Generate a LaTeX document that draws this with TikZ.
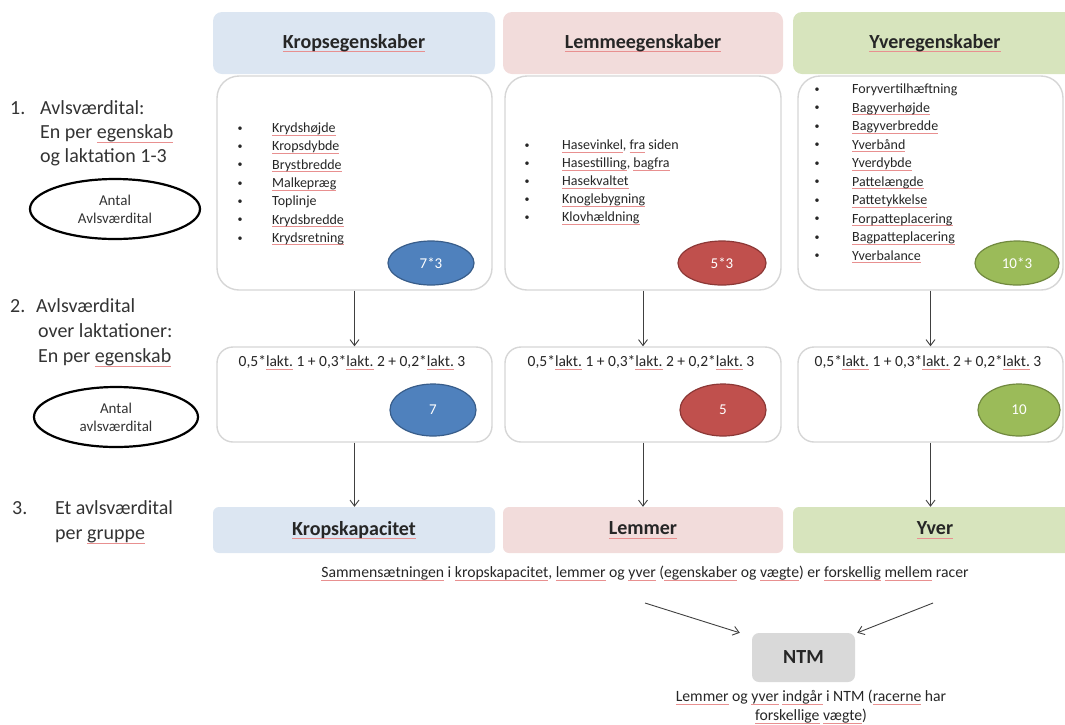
\documentclass[tikz,border=0pt]{standalone}
\usepackage{fontspec}
\setmainfont{Carlito}
\usetikzlibrary{arrows.meta,shapes.geometric}
\definecolor{hblue}{HTML}{DCE6F2}
\definecolor{hred}{HTML}{F2DCDB}
\definecolor{hgreen}{HTML}{D7E4BD}
\definecolor{eblue}{HTML}{4F81BD}
\definecolor{eblueb}{HTML}{385D8A}
\definecolor{ered}{HTML}{C0504D}
\definecolor{eredb}{HTML}{8C3836}
\definecolor{egreen}{HTML}{9BBB59}
\definecolor{egreenb}{HTML}{71893F}
\definecolor{txt}{HTML}{262626}
\definecolor{bord}{HTML}{D6D6D6}
\definecolor{ntmgray}{HTML}{D9D9D9}
\definecolor{squig}{HTML}{E89090}
\newsavebox\sqbox
\newcommand\sq[1]{\sbox\sqbox{#1}\rlap{\color{squig}\rule[-0.2em]{\wd\sqbox}{0.7pt}}\usebox\sqbox}
\begin{document}
\begin{tikzpicture}[x=1pt,y=-1pt,
  head/.style={fill=#1, rounded corners=9pt, inner sep=0pt, minimum height=62pt, text=txt, font=\fontsize{20}{24}\selectfont\bfseries},
  grp/.style={fill=#1, rounded corners=6pt, inner sep=0pt, minimum height=46pt, text=txt, font=\fontsize{20}{24}\selectfont\bfseries},
  panel/.style={draw=bord, line width=1.4pt, fill=white, rounded corners=22pt, inner sep=0pt},
  panelb/.style={draw=bord, line width=1.4pt, fill=white, rounded corners=16pt, inner sep=0pt},
  oval/.style={ellipse, line width=1.2pt, text=white, inner sep=0pt, font=\fontsize{15}{18}\selectfont},
  item/.style={anchor=west, inner sep=0pt, text height=10pt, text depth=3pt, text=txt, font=\fontsize{14}{17}\selectfont},
  bul/.style={inner sep=0pt, text=txt, font=\fontsize{10}{12}\selectfont},
  formula/.style={inner sep=0pt, text=txt, font=\fontsize{15.5}{18}\selectfont},
  lab/.style={anchor=west, inner sep=0pt, text height=13pt, text depth=4pt, text=black!80, font=\fontsize{20}{24}\selectfont},
  antal/.style={ellipse, draw=black, line width=2.2pt, align=center, inner sep=0pt, text=black!80, font=\fontsize{15}{18}\selectfont},
  arr/.style={-{Straight Barb[length=6pt,width=9pt]}, line width=0.9pt, draw=black!75},
  captxt/.style={inner sep=0pt, text=txt, font=\fontsize{15.7}{19}\selectfont, align=center}]
\useasboundingbox (0,0) rectangle (1065,724);

% header boxes
\node[head=hblue, minimum width=282pt] (hA) at (354,43) {\sq{Kropsegenskaber}};
\node[head=hred, minimum width=280pt] (hB) at (643,43) {\sq{Lemmeegenskaber}};
\node[head=hgreen, minimum width=284pt] (hC) at (935,43) {\sq{Yveregenskaber}};

% row 1 panels
\node[panel, minimum width=275pt, minimum height=214pt] (pA) at (354.5,183) {};
\node[panel, minimum width=276pt, minimum height=214pt] (pB) at (643,183) {};
\node[panel, minimum width=265pt, minimum height=214pt] (pC) at (930.5,183) {};

% lists
\foreach \t [count=\i from 0] in {\sq{Krydshøjde},\sq{Kropsdybde},\sq{Brystbredde},\sq{Malkepræg},Toplinje,\sq{Krydsbredde},\sq{Krydsretning}}{
  \node[bul] (bA\i) at (240,{129+18.3*\i}) {\textbullet};
  \node[item] (tA\i) at (272,{129+18.3*\i}) {\t};
}
\foreach \t [count=\i from 0] in {{\sq{Hasevinkel},\ \sq{fra} siden},{\sq{Hasestilling},\ \sq{bagfra}},\sq{Hasekvaltet},\sq{Knoglebygning},\sq{Klovhældning}}{
  \node[bul] (bB\i) at (527,{146+18*\i}) {\textbullet};
  \node[item] (tB\i) at (562,{146+18*\i}) {\t};
}
\foreach \t [count=\i from 0] in {Foryvertilhæftning,\sq{Bagyverhøjde},\sq{Bagyverbredde},\sq{Yverbånd},\sq{Yverdybde},\sq{Pattelængde},\sq{Pattetykkelse},\sq{Forpatteplacering},\sq{Bagpatteplacering},\sq{Yverbalance}}{
  \node[bul] (bC\i) at (817,{90+18.5*\i}) {\textbullet};
  \node[item] (tC\i) at (852,{90+18.5*\i}) {\t};
}

% row 1 ovals
\node[oval, fill=eblue, draw=eblueb, minimum width=86pt, minimum height=44pt] (oA) at (431,263) {7*3};
\node[oval, fill=ered, draw=eredb, minimum width=88pt, minimum height=44pt] (oB) at (722,263) {5*3};
\node[oval, fill=egreen, draw=egreenb, minimum width=84pt, minimum height=44pt] (oC) at (1017,263) {10*3};

% row 2 panels
\node[panelb, minimum width=275pt, minimum height=95pt] (qA) at (354.5,394.5) {};
\node[panelb, minimum width=276pt, minimum height=95pt] (qB) at (643,394.5) {};
\node[panelb, minimum width=265pt, minimum height=95pt] (qC) at (930.5,394.5) {};
\node[formula] (fA) at (352,363) {0,5*\sq{lakt.} 1 + 0,3*\sq{lakt.} 2 + 0,2*\sq{lakt.} 3};
\node[formula] (fB) at (641,363) {0,5*\sq{lakt.} 1 + 0,3*\sq{lakt.} 2 + 0,2*\sq{lakt.} 3};
\node[formula] (fC) at (928,363) {0,5*\sq{lakt.} 1 + 0,3*\sq{lakt.} 2 + 0,2*\sq{lakt.} 3};
\node[oval, fill=eblue, draw=eblueb, minimum width=86pt, minimum height=52pt] (rA) at (433,410) {7};
\node[oval, fill=ered, draw=eredb, minimum width=86pt, minimum height=52pt] (rB) at (723,410) {5};
\node[oval, fill=egreen, draw=egreenb, minimum width=82pt, minimum height=52pt] (rC) at (1019,410) {10};

% group boxes
\node[grp=hblue, minimum width=282pt] (gA) at (354,530) {\sq{Kropskapacitet}};
\node[grp=hred, minimum width=280pt] (gB) at (643,530) {\sq{Lemmer}};
\node[grp=hgreen, minimum width=284pt] (gC) at (935,530) {\sq{Yver}};

% arrows
\draw[arr] (pA.south) -- (qA.north);
\draw[arr] (pB.south) -- (qB.north);
\draw[arr] (pC.south) -- (qC.north);
\draw[arr] (qA.south) -- (qA.south |- gA.north);
\draw[arr] (qB.south) -- (qB.south |- gB.north);
\draw[arr] (qC.south) -- (qC.south |- gC.north);

% caption
\node[captxt] (capline) at (645,573) {\sq{Sammensætningen} i \sq{kropskapacitet}, \sq{lemmer} og \sq{yver} (\sq{egenskaber} og \sq{vægte}) er \sq{forskellig} \sq{mellem} racer};

% NTM
\node[fill=ntmgray, rounded corners=7pt, inner sep=0pt, minimum width=103pt, minimum height=49pt, text=txt, font=\fontsize{20}{24}\selectfont\bfseries] (ntm) at (803.5,657.5) {NTM};
\coordinate (s1) at (645,603);
\coordinate (s2) at (933,603);
\draw[arr] (s1) -- ([xshift=-12pt]ntm.north west);
\draw[arr] (s2) -- ([xshift=2pt]ntm.north east);
\node[captxt] (ntmcap) at (811,707) {\sq{Lemmer} og \sq{yver} \sq{indgår} i NTM (\sq{racerne} har\\\sq{forskellige} \sq{vægte})};

% left labels
\node[lab] (n1) at (10,110) {1.};
\node[lab] (l1a) at (40,110) {Avlsværdital:};
\node[lab] (l1b) at (40,134) {En per \sq{egenskab}};
\node[lab] (l1c) at (40,158) {og laktation 1-3};
\node[antal, minimum width=170pt, minimum height=60pt] (e1) at (115,209) {Antal\\Avlsværdital};

\node[lab] (n2) at (10,308) {2.};
\node[lab] (l2a) at (36,308) {Avlsværdital};
\node[lab] (l2b) at (38,333) {over laktationer:};
\node[lab] (l2c) at (38,358) {En per \sq{egenskab}};
\node[antal, minimum width=164pt, minimum height=60pt] (e2) at (116,417) {Antal\\avlsværdital};

\node[lab] (n3) at (12,510) {3.};
\node[lab] (l3a) at (55,510) {Et avlsværdital};
\node[lab] (l3b) at (55,535) {per \sq{gruppe}};
\end{tikzpicture}
\end{document}
